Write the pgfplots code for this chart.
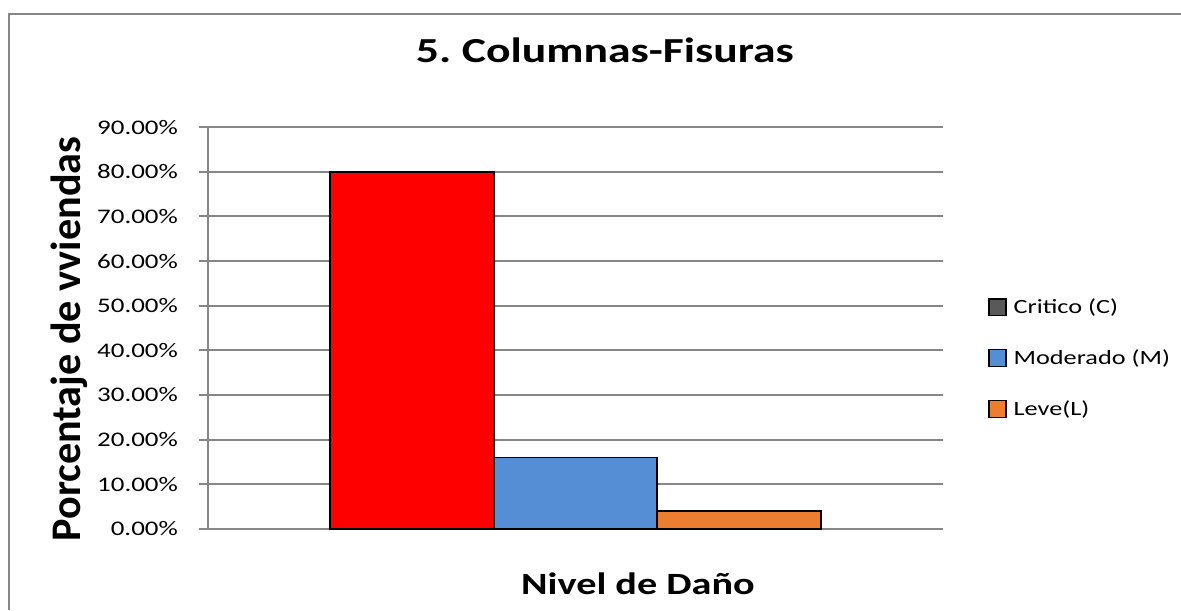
\documentclass[border=0pt]{standalone}
\usepackage{fontspec}
\setmainfont{Carlito}[FakeStretch=1.3]
\newfontfamily\ylabfont{Carlito}
\usepackage{pgfplots}
\pgfplotsset{compat=1.18}
\definecolor{gridgray}{RGB}{134,134,134}
\definecolor{critred}{RGB}{255,0,0}
\definecolor{modblue}{RGB}{85,142,213}
\definecolor{levorange}{RGB}{237,125,49}
\definecolor{critgray}{RGB}{89,89,89}
\pgfplotsset{
  legsq/.style={legend image code/.code={%
    \draw[fill=#1,draw=black,line width=0.8pt] (0pt,-4.8pt) rectangle (9.6pt,4.8pt);}},
  barsty/.style={fill=#1,draw=black,line width=1pt,bar shift=0pt},
}
\begin{document}
\begin{tikzpicture}
\useasboundingbox (0,0) rectangle (23.62cm,12.2cm);
\draw[gridgray,line width=1.1pt] (0.18cm,0) -- (0.18cm,11.92cm) -- (23.62cm,11.92cm);
\begin{axis}[
  at={(4.16cm,1.62cm)}, anchor=south west,
  scale only axis, width=14.7cm, height=8.04cm,
  ybar, bar width=1,
  xmin=-2.248, xmax=2.248, ymin=0, ymax=90,
  xtick=\empty, ytick={0,10,...,90},
  /pgf/number format/assume math mode=true,
  yticklabel={\pgfmathprintnumber[fixed,fixed zerofill,precision=2]{\tick}\%},
  ticklabel style={font=\fontsize{11.8}{14}\selectfont},
  yticklabel style={xshift=-8.5pt},
  tick align=outside, major tick length=5.1pt,
  tick style={gridgray,line width=1pt},
  ymajorgrids, major grid style={gridgray,line width=1pt},
  axis line style={gridgray,line width=1pt},
  axis x line*=bottom, axis y line*=left,
  title={5.\hspace{0.3em}Columnas-Fisuras},
  title style={font=\fontsize{20}{24}\selectfont\bfseries,
    at={(axis description cs:0.54,1.134)},anchor=base},
  xlabel={Nivel de Daño},
  xlabel style={font=\fontsize{17.6}{20}\selectfont\bfseries,
    at={(axis description cs:0.585,-0.164)},anchor=base},
  ylabel={Porcentaje de vviendas},
  ylabel style={font=\ylabfont\fontsize{24}{28}\selectfont\bfseries,
    at={(axis description cs:-0.189,0.473)},anchor=center},
  legend style={draw=none,fill=none,at={(axis description cs:1.054,0.425)},
    anchor=west,row sep=15pt,column sep=2pt,
    font=\fontsize{11.5}{13}\selectfont},
  legend cell align=left,
]
\addplot[barsty=critred,legsq=critgray] coordinates {(-1,80)};
\addplot[barsty=modblue,legsq=modblue] coordinates {(0,16)};
\addplot[barsty=levorange,legsq=levorange] coordinates {(1,4)};
\legend{Critico (C),Moderado (M),Leve(L)}
\end{axis}
\end{tikzpicture}
\end{document}
